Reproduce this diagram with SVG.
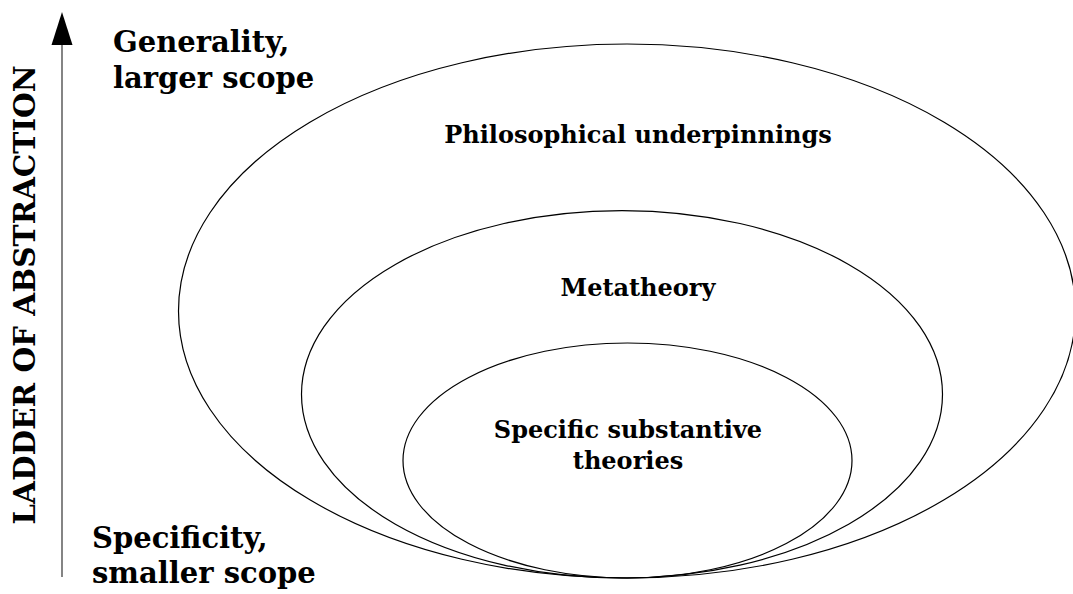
<svg xmlns="http://www.w3.org/2000/svg" width="1073" height="594" viewBox="0 0 1073 594">
  <style>
    .ring { fill: none; stroke: #000; stroke-width: 1.2; }
    .lbl { font-family: "DejaVu Serif", "Liberation Serif", serif; font-weight: bold; fill: #000; }
    .big { font-size: 29px; }
    .mid { font-size: 24px; }
  </style>
  <rect width="1073" height="594" fill="#fff"/>

  <!-- scale axis -->
  <g id="axis">
    <line x1="62" y1="577" x2="62" y2="40" stroke="#333" stroke-width="1.2"/>
    <polygon points="62,12 51.5,45 72.5,45" fill="#000"/>
    <text class="lbl" font-size="29.5" text-anchor="middle" transform="translate(35,295) rotate(-90)">LADDER OF ABSTRACTION</text>
  </g>

  <g id="top-label">
    <text class="lbl big" x="113" y="52">Generality,</text>
    <text class="lbl big" x="113" y="88">larger scope</text>
  </g>
  <g id="bottom-label">
    <text class="lbl big" x="92" y="548">Specificity,</text>
    <text class="lbl big" x="92" y="583">smaller scope</text>
  </g>

  <g id="philosophical">
    <ellipse class="ring" cx="627" cy="311" rx="448.5" ry="267"/>
    <text class="lbl mid" x="638" y="143" text-anchor="middle">Philosophical underpinnings</text>
  </g>
  <g id="metatheory">
    <ellipse class="ring" cx="622" cy="394.3" rx="320.5" ry="183.7"/>
    <text class="lbl mid" x="638" y="296" text-anchor="middle">Metatheory</text>
  </g>
  <g id="substantive">
    <ellipse class="ring" cx="627.5" cy="460.5" rx="224.5" ry="117.5"/>
    <text class="lbl mid" x="628" y="438" text-anchor="middle">Specific substantive</text>
    <text class="lbl mid" x="628" y="469" text-anchor="middle">theories</text>
  </g>
</svg>
